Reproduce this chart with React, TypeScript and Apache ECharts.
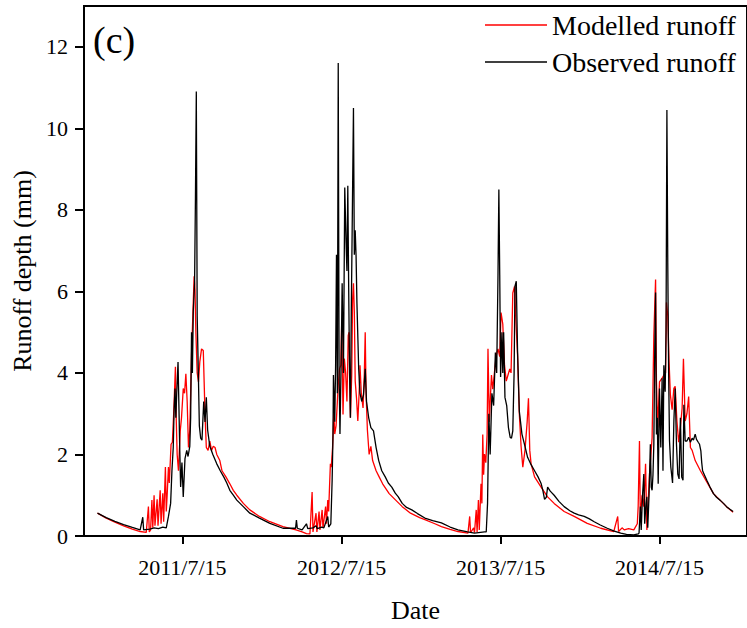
import React, { useEffect, useRef } from "react";
import * as echarts from "echarts";

// Day offsets are counted from 2011-01-01 (day 0)
const obsDays = [0,20,40,60,80,98,104,106,120,130,140,150,158,163,168,171,174,176,178,180,182,185,187,189,191,194,197,201,205,208,212,214,216,218,220,223,225,227,229,232,234,237,240,244,247,250,253,258,265,274,282,290,297,304,312,320,335,350,372,396,426,455,457,459,470,480,483,495,502,505,515,520,529,531,536,539,541,542,545,547,549,551,553,555,557,560,562,565,568,571,573,575,577,579,581,583,585,588,590,592,594,596,600,603,607,611,615,618,623,628,634,640,646,653,661,668,676,684,691,700,710,722,735,752,770,790,810,828,850,866,889,893,896,899,902,906,910,914,917,920,922,924,926,929,931,933,936,940,944,948,951,954,957,959,962,965,969,975,982,988,996,1004,1012,1019,1023,1027,1031,1034,1040,1049,1060,1072,1085,1095,1105,1118,1130,1141,1155,1171,1187,1202,1215,1232,1242,1244,1246,1247,1249,1252,1255,1257,1260,1262,1264,1267,1270,1272,1274,1276,1278,1280,1282,1284,1286,1288,1291,1294,1297,1299,1301,1304,1306,1308,1310,1312,1314,1317,1321,1324,1327,1330,1333,1336,1339,1342,1345,1347,1350,1354,1358,1362,1366,1369,1373,1376,1380,1383,1386,1388,1390,1395,1400,1407,1415,1422,1430,1438,1445,1452,1460];
const obsRunoff = [0.56,0.45,0.36,0.28,0.21,0.15,0.46,0.15,0.17,0.2,0.18,0.22,0.2,0.48,0.8,1.6,2.17,3.1,3.62,2.9,3.5,4.27,3.2,2.1,1.2,1.8,0.96,1.9,2.1,1.95,2.2,2.9,5.0,4.0,5.5,6.2,8.3,10.9,5.4,3.8,2.7,2.4,2.35,3.3,2.8,3.4,2.6,2.2,2.0,1.77,1.6,1.45,1.3,1.12,1.0,0.88,0.72,0.56,0.44,0.31,0.19,0.19,0.39,0.19,0.15,0.3,0.18,0.2,0.25,0.18,0.22,0.2,0.48,0.22,0.3,1.36,2.5,3.95,2.8,4.2,6.9,3.5,11.6,4.0,2.5,4.5,6.2,4.0,8.55,7.2,6.5,8.59,6.1,4.0,2.9,5.5,7.5,10.5,6.9,7.5,6.86,5.7,4.1,3.5,3.3,3.46,4.1,3.3,2.9,2.66,2.58,2.17,1.85,1.6,1.45,1.3,1.2,1.05,0.96,0.8,0.7,0.64,0.55,0.44,0.38,0.32,0.22,0.15,0.1,0.07,0.1,0.1,0.8,3.0,2.0,3.5,3.2,4.5,4.0,6.4,8.5,6.4,3.9,5.0,4.0,5.0,3.4,3.2,2.66,2.42,2.4,2.58,4.0,6.13,6.25,4.5,3.06,2.5,2.2,1.93,1.75,1.6,1.45,1.29,1.12,0.9,0.95,1.2,1.1,1.0,0.85,0.72,0.62,0.56,0.52,0.48,0.42,0.35,0.27,0.19,0.12,0.07,0.04,0.03,0.05,0.07,0.5,0.72,0.15,1.0,1.52,0.3,0.8,0.96,0.2,1.0,2.25,1.2,1.12,1.5,2.25,4.5,5.97,2.49,2.9,1.28,3.62,2.17,3.87,1.6,4.19,3.54,5.0,10.45,6.7,4.0,2.33,1.69,1.3,2.82,3.62,2.25,1.52,1.4,2.9,1.45,1.37,3.22,2.33,2.33,2.42,2.3,2.4,2.35,2.5,2.37,2.3,2.25,2.09,1.8,1.6,1.48,1.36,1.2,1.04,0.95,0.88,0.8,0.72,0.66,0.6];

const modDays = [0,20,40,60,80,98,112,117,119,122,125,127,130,132,137,139,144,146,150,152,156,158,160,163,165,169,172,175,179,181,183,186,190,193,197,200,203,206,209,212,216,219,222,224,226,229,232,235,239,243,245,247,250,254,258,262,266,270,274,281,286,295,304,312,320,335,350,372,396,426,456,470,480,488,493,495,502,504,509,511,516,518,524,526,529,531,533,535,537,540,543,545,548,551,553,556,559,561,564,567,570,573,576,578,581,584,586,588,590,592,595,598,601,603,606,610,613,615,617,620,624,628,632,640,647,655,670,685,700,719,740,752,775,790,810,828,851,855,857,864,866,870,872,875,877,881,883,885,887,889,892,895,897,900,903,905,908,912,916,920,924,927,931,935,939,943,947,950,954,958,961,965,969,973,977,982,987,990,993,996,1004,1019,1034,1049,1072,1095,1125,1156,1186,1195,1197,1205,1210,1220,1232,1240,1242,1245,1247,1251,1255,1259,1262,1268,1274,1278,1282,1284,1287,1291,1297,1301,1305,1307,1310,1313,1316,1320,1324,1327,1331,1335,1339,1343,1346,1350,1354,1358,1362,1366,1373,1385,1400,1415,1430,1445,1460];
const modRunoff = [0.56,0.44,0.34,0.25,0.17,0.11,0.09,0.72,0.1,0.15,0.88,0.2,1.0,0.25,0.9,0.25,1.12,0.3,1.05,0.35,1.69,0.6,1.0,1.69,1.3,2.25,2.3,3.0,4.15,2.82,2.0,1.6,2.57,2.9,3.62,3.5,3.98,3.3,2.17,2.6,4.43,5.4,6.37,6.04,5.0,4.0,3.78,4.27,4.59,4.55,3.78,2.98,2.17,2.1,2.33,2.1,2.2,2.17,2.0,1.85,1.6,1.45,1.28,1.12,1.0,0.8,0.64,0.48,0.35,0.23,0.15,0.1,0.06,0.05,1.08,0.1,0.56,0.1,0.6,0.15,0.64,0.2,0.72,0.3,0.88,0.6,1.2,1.77,1.69,2.17,3.06,2.5,2.7,3.3,3.7,4.1,4.19,5.24,2.98,4.35,4.0,3.3,4.92,5.0,2.9,3.95,5.8,6.2,5.5,3.8,3.38,2.82,3.5,4.19,3.5,3.14,4.0,5.0,3.5,2.6,2.0,2.2,1.85,1.6,1.45,1.28,1.04,0.88,0.72,0.56,0.45,0.4,0.3,0.23,0.16,0.11,0.07,0.48,0.08,0.2,0.08,0.64,0.1,0.88,0.15,1.28,0.8,2.49,1.5,2.01,1.8,2.5,4.59,2.8,3.5,3.95,3.6,4.03,4.43,4.59,4.4,5.48,5.2,4.19,3.8,3.95,4.1,4.0,5.96,6.12,5.3,4.43,3.0,2.2,1.69,2.1,2.8,3.38,2.1,1.77,1.45,1.2,0.96,0.8,0.6,0.48,0.31,0.19,0.11,0.48,0.11,0.2,0.15,0.18,0.15,0.3,0.72,2.33,0.4,1.0,0.72,1.77,0.15,1.5,2.41,4.92,6.29,3.8,2.66,3.78,3.87,3.95,4.0,5.73,5.4,4.27,3.46,3.1,3.62,3.67,2.82,2.3,2.66,3.14,4.35,2.82,3.0,3.42,2.17,2.1,1.85,1.6,1.32,1.04,0.88,0.72,0.58];

const xTickDates = ["2011/7/15", "2012/7/15", "2013/7/15", "2014/7/15"];
const xStart = "2010/12/1";
const xEnd = "2015/2/1";
const seriesNames = ["Modelled runoff", "Observed runoff"];
const yTicks = [0, 2, 4, 6, 8, 10, 12];

const dayOf = (s: string) => {
  const [y, m, d] = s.split("/").map(Number);
  return Math.round((Date.UTC(y, m - 1, d) - Date.UTC(2011, 0, 1)) / 86400000);
};

const FONT = "'Liberation Serif', 'Times New Roman', serif";

export default function App() {
  const ref = useRef<HTMLDivElement>(null);
  useEffect(() => {
    if (!ref.current) return;
    const chart = echarts.init(ref.current, null, { renderer: "svg" });
    const tickDays = xTickDates.map(dayOf);
    const labelByDay: Record<number, string> = {};
    tickDays.forEach((d, i) => (labelByDay[d] = xTickDates[i]));
    const pair = (xs: number[], ys: number[]) => xs.map((x, i) => [x, ys[i]]);
    chart.setOption({
      animation: false,
      backgroundColor: "#fff",
      grid: {
        left: 84,
        right: -3,
        top: 6,
        bottom: 85,
        show: true,
        borderColor: "#000",
        borderWidth: 2,
        backgroundColor: "transparent",
      },
      legend: {
        orient: "vertical",
        left: 480,
        top: 6,
        icon: "rect",
        itemWidth: 62,
        itemHeight: 1.5,
        itemGap: 9,
        data: seriesNames,
        textStyle: { fontFamily: FONT, fontSize: 28, color: "#000", lineHeight: 28 },
      },
      graphic: [
        {
          type: "text",
          left: 93,
          top: 21,
          style: { text: "(c)", font: `38px ${FONT}`, fill: "#000" },
        },
      ],
      xAxis: {
        type: "value",
        min: dayOf(xStart),
        max: dayOf(xEnd),
        name: "Date",
        nameLocation: "middle",
        nameGap: 61,
        nameTextStyle: { fontFamily: FONT, fontSize: 26, color: "#000" },
        axisLine: { show: true, onZero: false, lineStyle: { color: "#000", width: 2 } },
        axisTick: { show: true, length: 8, lineStyle: { color: "#000", width: 2 }, customValues: tickDays },
        axisLabel: {
          customValues: tickDays,
          margin: 20,
          fontFamily: FONT,
          fontSize: 22,
          color: "#000",
          formatter: (v: number) => labelByDay[Math.round(v)] ?? "",
        },
        splitLine: { show: false },
      },
      yAxis: {
        type: "value",
        min: 0,
        max: 13,
        name: "Runoff depth (mm)",
        nameLocation: "middle",
        nameGap: 40,
        nameTextStyle: { fontFamily: FONT, fontSize: 26, color: "#000" },
        axisLine: { show: true, onZero: false, lineStyle: { color: "#000", width: 2 } },
        axisTick: { show: true, length: 9, lineStyle: { color: "#000", width: 2 }, customValues: yTicks },
        axisLabel: {
          customValues: yTicks,
          margin: 16,
          fontFamily: FONT,
          fontSize: 22,
          color: "#000",
        },
        splitLine: { show: false },
      },
      series: [
        {
          name: seriesNames[0],
          type: "line",
          data: pair(modDays, modRunoff),
          symbol: "none",
          lineStyle: { color: "#ff0000", width: 1.3 },
          itemStyle: { color: "#ff0000" },
        },
        {
          name: seriesNames[1],
          type: "line",
          data: pair(obsDays, obsRunoff),
          symbol: "none",
          lineStyle: { color: "#000000", width: 1.3 },
          itemStyle: { color: "#000000" },
        },
      ],
    });
    return () => chart.dispose();
  }, []);
  return (
    <div
      ref={ref}
      style={{ position: "fixed", left: 0, top: 0, width: 747, height: 628, background: "#fff" }}
    />
  );
}
